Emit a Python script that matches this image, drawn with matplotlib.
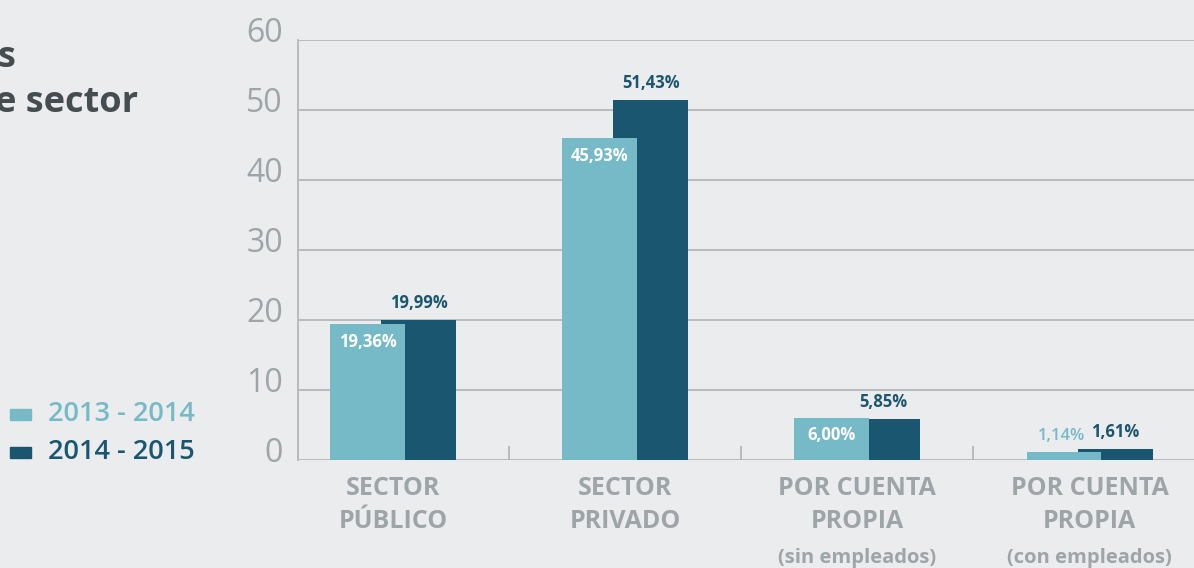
import matplotlib
matplotlib.use("Agg")
import matplotlib.pyplot as plt
import numpy as np
from matplotlib.patches import Rectangle

# datos
categorias = ["SECTOR\nPÚBLICO", "SECTOR\nPRIVADO", "POR CUENTA\nPROPIA", "POR CUENTA\nPROPIA"]
subtitulos = ["", "", "(sin empleados)", "(con empleados)"]
serie_2013 = [19.36, 45.93, 6.00, 1.14]
serie_2014 = [19.99, 51.43, 5.85, 1.61]
etiquetas_2013 = ["19,36%", "45,93%", "6,00%", "1,14%"]
etiquetas_2014 = ["19,99%", "51,43%", "5,85%", "1,61%"]
periodos = ["2013 - 2014", "2014 - 2015"]
yticks = [0, 10, 20, 30, 40, 50, 60]

CLARO = "#76bac8"
OSCURO = "#1a566f"
FONDO = "#ebecee"
GRIS = "#9ea5a8"
GRID = "#b3b7b9"

plt.rcParams["font.family"] = ["Open Sans", "DejaVu Sans"]

W, H = 1194, 568
fig = plt.figure(figsize=(W / 100, H / 100), dpi=100, facecolor=FONDO)
ax = fig.add_axes([298 / W, 108 / H, 1 - 298 / W, 420 / H], facecolor=FONDO)

x = np.arange(len(categorias))
ancho = 0.323
desp = 0.11
ax.bar(x + desp, serie_2014, ancho, color=OSCURO, zorder=2)
ax.bar(x - desp, serie_2013, ancho, color=CLARO, zorder=3)

ax.set_xlim(-0.41, 3.45)
ax.set_ylim(0, 60)

# cuadrícula
ax.set_yticks(yticks)
ax.set_yticklabels([])
ax.yaxis.grid(True, color=GRID, linewidth=1.3, zorder=0)
ax.tick_params(axis="y", length=0)
for y in yticks:
    ax.text(-0.017, y - 0.3, str(y), transform=ax.get_yaxis_transform(), ha="right",
            va="baseline", fontsize=23, color=GRIS)

for s in ["top", "right", "bottom"]:
    ax.spines[s].set_visible(False)
ax.spines["left"].set_color(GRID)
ax.spines["left"].set_linewidth(1.3)

ax.set_xticks([0.5, 1.5, 2.5])
ax.set_xticklabels([])
ax.tick_params(axis="x", direction="in", length=10, width=1.3, color=GRID)

# etiquetas de categoría
for i, (cat, sub) in enumerate(zip(categorias, subtitulos)):
    ax.text(i, -2.3, cat, ha="center", va="top", fontsize=18, fontweight="bold",
            color=GRIS, linespacing=1.4)
    if sub:
        ax.text(i, -12.6, sub, ha="center", va="top", fontsize=14.5,
                fontweight="bold", color=GRIS)

# etiquetas de valor
for i in range(len(categorias)):
    ax.text(i + desp, serie_2014[i] + 1.1, etiquetas_2014[i], ha="center",
            va="bottom", fontsize=12, fontweight="bold", color=OSCURO, zorder=5)
    if serie_2013[i] > 3:
        ax.text(i - desp, serie_2013[i] - 1.2, etiquetas_2013[i], ha="center",
                va="top", fontsize=12, fontweight="bold", color="white", zorder=5)
    else:
        ax.text(i - desp - 0.01, serie_2013[i] + 1.1, etiquetas_2013[i], ha="center",
                va="bottom", fontsize=12, fontweight="semibold", color=CLARO, zorder=5)

# título (cortado a la izquierda)
fig.text(-3 / W, 1 - 67 / H, "s", ha="left", va="baseline", fontsize=26,
         fontweight="bold", color="#454d50")
fig.text(-5 / W, 1 - 112 / H, "e sector", ha="left", va="baseline", fontsize=26,
         fontweight="bold", color="#454d50")

# leyenda
for j, (txt, col) in enumerate(zip(periodos, [CLARO, OSCURO])):
    yc = 1 - (414 + 38 * j) / H
    fig.patches.append(Rectangle((10 / W, yc - 5.5 / H), 21 / W, 11 / H,
                                 transform=fig.transFigure, color=col))
    fig.text(48 / W, yc, txt, ha="left", va="center", fontsize=19.5,
             fontweight="semibold", color=col)

fig.savefig("out.png", dpi=100, facecolor=FONDO)
